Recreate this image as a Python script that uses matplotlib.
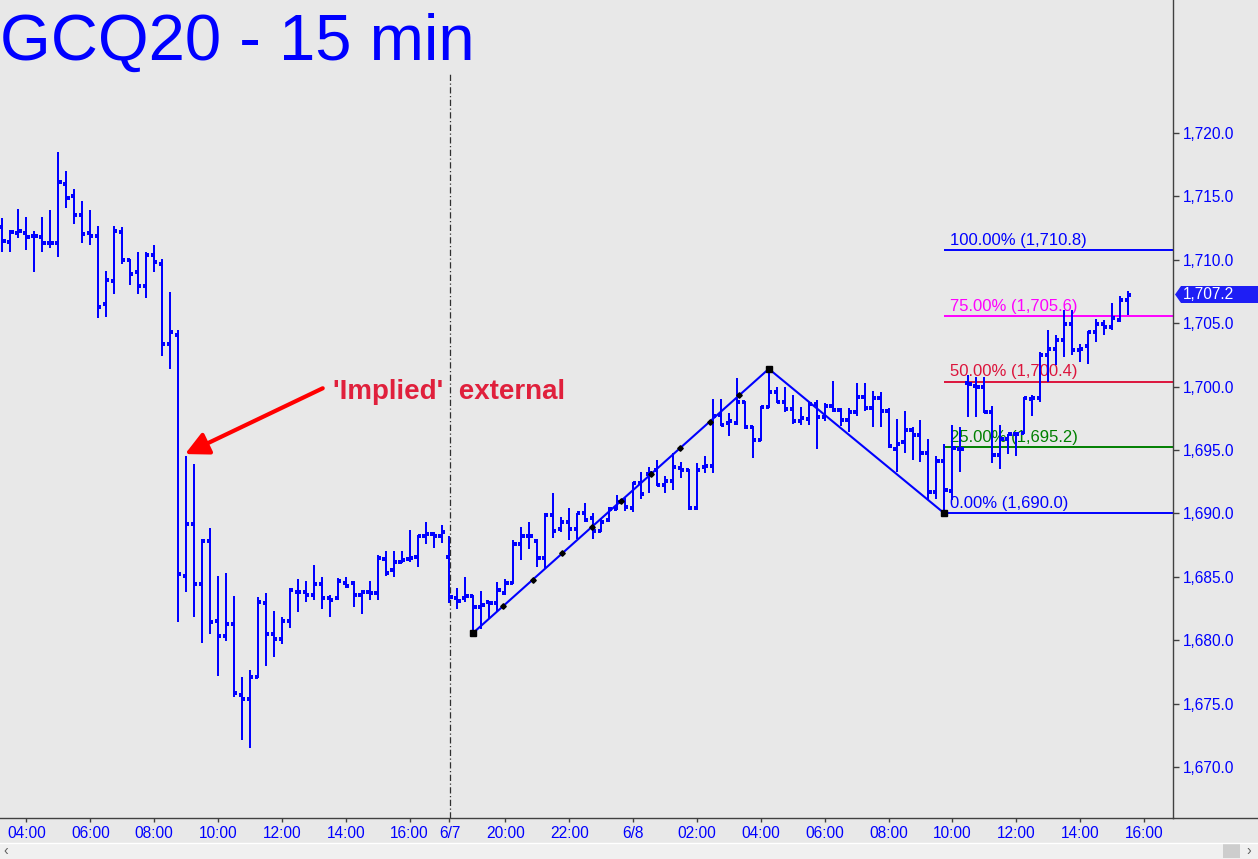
import matplotlib
matplotlib.use('Agg')
import matplotlib.pyplot as plt
import numpy as np
from matplotlib.collections import LineCollection
from matplotlib.patches import Polygon, Rectangle
from matplotlib.lines import Line2D

plt.rcParams['font.family'] = ['Liberation Sans', 'DejaVu Sans']

# ---------------- data ----------------
first_bar = -3  # bar index of first bar (index 0 = 04:00)
opens = [1712.6, 1711.4, 1712.1, 1712.1, 1711.85, 1711.8, 1711.3, 1711.3, 1716.0, 1715.0,
         1713.5, 1712.1, 1711.85, 1706.5, 1708.3, 1712.2, 1710.0, 1709.0, 1707.9, 1710.35,
         1709.65, 1703.4, 1704.1, 1685.1, 1689.2, 1684.4, 1687.85, 1681.5, 1680.3, 1681.3,
         1675.7, 1675.4, 1677.1, 1682.9, 1680.5, 1680.1, 1681.5, 1683.8, 1683.8, 1683.6,
         1684.4, 1683.3, 1683.3, 1684.5, 1684.5, 1683.6, 1683.8, 1683.7, 1686.4, 1685.5,
         1686.2, 1686.4, 1686.6, 1688.2, 1688.4, 1688.2, 1686.6, 1683.3, 1683.3, 1683.5,
         1682.6, 1683.0, 1682.9, 1683.7, 1684.5, 1687.6, 1688.2, 1687.8, 1686.5, 1689.9,
         1688.8, 1689.3, 1688.8, 1690.0, 1689.6, 1688.6, 1689.5, 1690.35, 1691.05, 1690.4,
         1692.4, 1693.1, 1693.4, 1692.25, 1692.55, 1693.6, 1693.4, 1690.4, 1693.7, 1693.75,
         1697.8, 1697.15, 1697.15, 1698.8, 1696.8, 1695.8, 1698.4, 1699.55, 1698.8, 1698.2,
         1697.3, 1697.45, 1698.6, 1697.6, 1698.5, 1698.15, 1697.35, 1698.0, 1699.15, 1698.35,
         1699.1, 1698.1, 1695.1, 1695.65, 1696.6, 1696.2, 1694.8, 1691.65, 1694.1, 1691.8,
         1695.1, 1700.25, 1700.05, 1699.95, 1698.0, 1694.6, 1695.85, 1696.25, 1696.35, 1699.0,
         1699.1, 1702.5, 1702.95, 1703.7, 1704.95, 1702.9, 1703.2, 1704.3, 1704.9, 1704.7,
         1705.25, 1706.8]
highs = [1713.3, 1712.35, 1714.0, 1713.4, 1712.3, 1713.4, 1713.9, 1718.5, 1717.0, 1715.6,
         1714.6, 1713.9, 1712.7, 1709.1, 1712.7, 1712.6, 1710.1, 1710.6, 1710.6, 1711.15,
         1710.1, 1707.5, 1704.5, 1694.55, 1693.9, 1688.0, 1688.85, 1685.1, 1685.3, 1683.5,
         1677.1, 1677.65, 1683.4, 1683.7, 1682.3, 1681.8, 1684.1, 1684.8, 1684.7, 1685.9,
         1685.0, 1683.6, 1684.9, 1685.0, 1684.7, 1684.0, 1684.7, 1686.7, 1687.0, 1687.0,
         1687.0, 1688.7, 1688.3, 1689.3, 1688.5, 1689.1, 1688.2, 1684.1, 1685.0, 1683.6,
         1683.9, 1683.1, 1684.6, 1684.8, 1687.9, 1688.9, 1689.3, 1688.0, 1690.0, 1691.6,
         1689.7, 1690.4, 1690.05, 1690.8, 1690.05, 1689.6, 1690.5, 1691.45, 1691.2, 1692.5,
         1693.3, 1693.7, 1694.2, 1692.95, 1694.8, 1694.05, 1693.5, 1694.0, 1694.5, 1699.0,
         1699.0, 1697.9, 1700.7, 1698.9, 1696.9, 1698.5, 1701.4, 1700.0, 1699.95, 1699.3,
         1698.4, 1698.8, 1698.95, 1698.7, 1700.45, 1698.3, 1698.3, 1700.25, 1700.25, 1699.65,
         1699.55, 1698.3, 1697.45, 1698.1, 1696.8, 1697.35, 1695.85, 1694.5, 1695.5, 1697.0,
         1696.8, 1700.9, 1700.75, 1700.75, 1698.45, 1697.0, 1696.3, 1696.35, 1699.15, 1699.3,
         1702.7, 1704.45, 1704.05, 1706.05, 1706.05, 1703.35, 1704.35, 1705.3, 1705.25, 1706.6,
         1707.15, 1707.55]
lows = [1710.6, 1710.6, 1711.7, 1710.8, 1709.0, 1710.6, 1710.9, 1710.25, 1714.1, 1712.8,
        1711.35, 1711.2, 1705.4, 1705.5, 1707.3, 1709.7, 1708.0, 1707.3, 1707.0, 1709.0,
        1702.4, 1701.4, 1681.4, 1683.8, 1681.8, 1679.8, 1680.5, 1677.2, 1679.9, 1675.5,
        1672.1, 1671.5, 1677.0, 1678.0, 1678.7, 1679.7, 1681.0, 1682.25, 1683.0, 1683.2,
        1682.5, 1681.8, 1683.2, 1684.1, 1682.6, 1682.1, 1683.2, 1683.2, 1685.1, 1685.0,
        1686.1, 1686.2, 1685.8, 1687.6, 1687.3, 1687.7, 1682.9, 1682.5, 1683.0, 1680.6,
        1680.9, 1681.7, 1682.2, 1683.6, 1684.4, 1686.3, 1687.2, 1685.8, 1685.7, 1688.1,
        1688.5, 1687.9, 1688.0, 1689.35, 1688.0, 1688.55, 1689.35, 1690.3, 1690.2, 1690.1,
        1691.1, 1691.6, 1692.2, 1691.6, 1691.85, 1692.8, 1690.3, 1690.3, 1693.2, 1693.2,
        1696.9, 1696.1, 1697.0, 1696.65, 1694.4, 1695.75, 1698.3, 1698.7, 1698.0, 1697.05,
        1697.0, 1697.0, 1695.1, 1697.3, 1698.0, 1696.9, 1696.45, 1697.7, 1698.1, 1696.85,
        1696.8, 1695.15, 1693.3, 1694.75, 1694.25, 1694.05, 1691.05, 1691.1, 1690.0, 1691.05,
        1693.3, 1697.6, 1697.6, 1697.9, 1694.0, 1693.5, 1694.7, 1694.55, 1696.3, 1697.7,
        1698.8, 1700.4, 1701.7, 1702.35, 1702.5, 1701.95, 1701.8, 1703.5, 1704.05, 1704.45,
        1705.1, 1705.65]
closes = [1711.5, 1712.2, 1712.3, 1711.8, 1711.85, 1711.3, 1711.3, 1716.1, 1714.9, 1713.5,
          1712.0, 1711.85, 1706.3, 1708.4, 1712.3, 1710.0, 1708.9, 1707.9, 1710.35, 1709.8,
          1703.4, 1704.3, 1685.2, 1689.2, 1684.4, 1687.85, 1681.4, 1680.3, 1681.3, 1675.8,
          1675.4, 1677.1, 1683.0, 1680.5, 1680.1, 1681.5, 1684.0, 1683.8, 1683.6, 1684.4,
          1683.3, 1683.2, 1684.7, 1684.3, 1683.6, 1683.8, 1683.7, 1686.5, 1685.3, 1686.2,
          1686.3, 1686.5, 1688.2, 1688.4, 1688.2, 1688.5, 1683.4, 1683.1, 1683.5, 1682.6,
          1682.8, 1682.9, 1684.0, 1684.5, 1687.6, 1688.2, 1688.2, 1686.5, 1689.9, 1688.6,
          1689.3, 1688.8, 1690.0, 1689.5, 1688.6, 1689.35, 1690.35, 1690.9, 1690.5, 1692.4,
          1691.5, 1693.15, 1692.25, 1692.55, 1693.65, 1693.45, 1690.4, 1693.4, 1693.75, 1697.7,
          1697.0, 1697.3, 1698.8, 1696.8, 1695.8, 1698.4, 1699.55, 1698.8, 1698.2, 1697.3,
          1697.5, 1698.6, 1697.6, 1698.5, 1698.15, 1697.35, 1698.0, 1699.15, 1698.35, 1699.1,
          1698.1, 1695.3, 1695.5, 1696.6, 1696.2, 1694.8, 1691.65, 1694.15, 1691.85, 1695.15,
          1695.1, 1700.2, 1699.95, 1698.0, 1694.6, 1695.85, 1696.25, 1696.25, 1699.1, 1699.1,
          1702.5, 1702.95, 1703.7, 1704.95, 1702.9, 1703.0, 1704.3, 1704.9, 1704.7, 1705.4,
          1706.8, 1707.2]

tick_pos = [0, 8, 16, 24, 32, 40, 48, 53, 60, 68, 76, 84, 92, 100, 108, 116, 124, 132, 140]
tick_labels = ['04:00', '06:00', '08:00', '10:00', '12:00', '14:00', '16:00', '6/7',
               '20:00', '22:00', '6/8', '02:00', '04:00', '06:00', '08:00', '10:00',
               '12:00', '14:00', '16:00']

swing_bars = [56, 93, 115]
swing_prices = [1680.6, 1701.4, 1690.0]

fib_levels = [1710.8, 1705.6, 1700.4, 1695.2, 1690.0]
fib_labels = ['100.00% (1,710.8)', '75.00% (1,705.6)', '50.00% (1,700.4)',
              '25.00% (1,695.2)', '0.00% (1,690.0)']
fib_colors = ['#0000FF', '#FF00FF', '#DC143C', '#008000', '#0000FF']

last_price = 1707.2
session_break = 53.1

# ---------------- figure ----------------
W, H = 1258, 859
BG = '#E8E8E8'
fig = plt.figure(figsize=(W / 100, H / 100), dpi=100, facecolor=BG)
ax = fig.add_axes([0, 41 / H, 1173 / W, 818 / H])
ax.set_facecolor(BG)
ax.set_xlim(-3.307, 143.63)
ax.set_ylim(1665.98, 1730.49)

x = np.arange(first_bar, first_bar + len(opens))
o = np.array(opens); h = np.array(highs); l = np.array(lows); c = np.array(closes)
tw = 0.4
vsegs = [[(xi, li), (xi, hi)] for xi, li, hi in zip(x, l, h)]
osegs = [[(xi - tw, oi), (xi, oi)] for xi, oi in zip(x, o)]
csegs = [[(xi, ci), (xi + tw, ci)] for xi, ci in zip(x, c)]
ax.add_collection(LineCollection(vsegs, colors='#0000FF', linewidths=1.44, capstyle='butt',
                                 antialiaseds=False, zorder=3))
ax.add_collection(LineCollection(osegs + csegs, colors='#0000FF', linewidths=1.6, capstyle='butt',
                                 antialiaseds=False, zorder=3))

# session separator
ax.vlines(session_break, ax.get_ylim()[0], 1724.8, colors='#303030',
          linestyles=(0, (5, 2, 1, 2)), linewidth=0.9, zorder=1)

# swing lines
ax.plot(swing_bars, swing_prices, color='#0000FF', lw=1.5, zorder=4)
ax.plot(swing_bars, swing_prices, 's', color='black', ms=5, zorder=5)
fr = np.arange(1, 10) / 10.0
ax.plot(swing_bars[0] + fr * (swing_bars[1] - swing_bars[0]),
        swing_prices[0] + fr * (swing_prices[1] - swing_prices[0]),
        'D', color='black', ms=2.8, zorder=5)

# fib levels
for lev, lab, col in zip(fib_levels, fib_labels, fib_colors):
    ax.hlines(lev, swing_bars[2], 143.63, colors=col, linewidth=1.4, zorder=2)
    ax.text(115.75, lev + 0.4, lab, color=col, fontsize=12, va='baseline', ha='left', zorder=2)

# annotation
ax.annotate('', xy=(19.87, 1694.68), xytext=(37.12, 1699.87),
            arrowprops=dict(arrowstyle='-|>,head_length=0.7,head_width=0.35', color='#FF0000',
                            lw=3, mutation_scale=20, shrinkA=0, shrinkB=0), zorder=6)
ax.text(38.4, 1699.0, "'Implied'  external", color='#E0203C', fontsize=20,
        fontweight='bold', va='baseline', ha='left', zorder=6)

# axes styling
for s in ['top', 'left']:
    ax.spines[s].set_visible(False)
for s in ['right', 'bottom']:
    ax.spines[s].set_color('#404040')
    ax.spines[s].set_linewidth(1)
ax.yaxis.tick_right()
yt = np.arange(1670, 1721, 5)
ax.set_yticks(yt)
ax.set_yticklabels([f'{v:,.1f}' for v in yt])
ax.tick_params(axis='y', which='both', length=4.3, width=1, color='#404040',
               labelcolor='#0000FF', labelsize=11.2, pad=2.9)
ax.set_xticks(tick_pos)
ax.set_xticklabels(tick_labels)
ax.tick_params(axis='x', length=3, width=1, color='#404040', labelcolor='#0000FF',
               labelsize=11.2, pad=2.5)

# title
fig.text(0.0, 1 - 60 / H, 'GCQ20 - 15 min', fontsize=47, color='#0000FF',
         va='baseline', ha='left')

# bottom axis line continuation
fig.add_artist(Line2D([1173 / W, 1], [41 / H, 41 / H], color='#404040', lw=1))

# price tag
pts = [(1175, 294.5), (1181, 286), (1258, 286), (1258, 303), (1181, 303)]
fig.add_artist(Polygon([(px / W, 1 - py / H) for px, py in pts], closed=True,
                       transform=fig.transFigure, facecolor='#1E1EF5', edgecolor='none'))
fig.text(1183 / W, 1 - 294.5 / H, f'{last_price:,.1f}', color='white', fontsize=11.2,
         va='center', ha='left')

# scrollbar
fig.add_artist(Rectangle((0, 0), 1, 16 / H, transform=fig.transFigure,
                         facecolor='#F0F0F0', edgecolor='none'))
fig.add_artist(Line2D([0, 1], [16 / H, 16 / H], color='white', lw=1))
fig.add_artist(Rectangle((1223 / W, 1 / H), 17 / W, 14 / H, transform=fig.transFigure,
                         facecolor='#CDCDCD', edgecolor='none'))
fig.text(6 / W, 8 / H, '\u2039', color='#606060', fontsize=10, va='center', ha='center')
fig.text(1249 / W, 8 / H, '\u203a', color='#606060', fontsize=10, va='center', ha='center')

fig.savefig('out.png', dpi=100, facecolor=BG)
